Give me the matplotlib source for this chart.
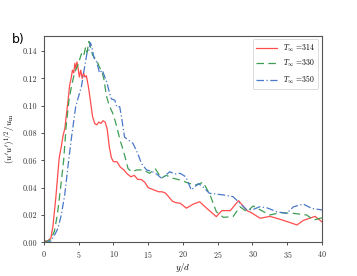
import numpy as np
import matplotlib
matplotlib.use('Agg')
import matplotlib.pyplot as plt
from matplotlib.ticker import FormatStrFormatter, MultipleLocator

plt.rcParams['font.family'] = ['cmr10']
plt.rcParams['mathtext.fontset'] = 'cm'
plt.rcParams['axes.formatter.use_mathtext'] = True

# T = 314 (red, solid)
x_314 = [0, 0.5, 1.0, 1.3, 1.7, 2.0, 2.2, 2.5, 2.75, 3.0, 3.2, 3.5, 3.7, 3.95, 4.1, 4.3, 4.45, 4.6,
         4.75, 4.9, 5.1, 5.3, 5.5, 5.7, 5.9, 6.1, 6.4, 6.7, 7.0, 7.3, 7.6, 7.9, 8.2, 8.5, 8.8,
         9.1, 9.4, 9.7, 10.0, 10.5, 11.0, 11.5, 12.0, 12.5, 13.0, 13.5, 14.0, 14.5, 15.0, 15.5,
         16.0, 16.5, 17.0, 17.5, 18.0, 18.5, 19.0, 19.6, 20.5, 21.5, 22.4, 23.4, 24.8, 25.6,
         26.8, 28.0, 29.2, 29.9, 31.1, 32.5, 34.0, 35.2, 36.4, 37.3, 39.0, 40.0]
u_314 = [0.001, 0.001, 0.003, 0.012, 0.032, 0.05, 0.062, 0.07, 0.078, 0.083, 0.092, 0.105, 0.115,
         0.121, 0.126, 0.124, 0.131, 0.127, 0.132, 0.128, 0.121, 0.126, 0.12, 0.124, 0.121, 0.122,
         0.114, 0.103, 0.092, 0.087, 0.086, 0.088, 0.087, 0.089, 0.088, 0.083, 0.07, 0.062,
         0.059, 0.059, 0.055, 0.053, 0.05, 0.048, 0.049, 0.046, 0.046, 0.044, 0.04, 0.039,
         0.038, 0.037, 0.037, 0.036, 0.033, 0.03, 0.029, 0.0286, 0.025, 0.028, 0.0297, 0.025,
         0.0188, 0.0232, 0.0232, 0.0305, 0.0232, 0.0215, 0.0176, 0.019, 0.0168, 0.0148, 0.0127,
         0.016, 0.019, 0.015]

# T = 330 (green, dashed)
x_330 = [0, 0.5, 1.0, 1.5, 1.93, 2.4, 2.84, 3.2, 3.6, 4.0, 4.4, 4.9, 5.4, 5.7, 6.0, 6.2, 6.48,
         6.7, 7.0, 7.3, 7.6, 8.0, 8.3, 8.6, 9.0, 9.4, 9.9, 10.3, 10.7, 11.0, 11.4, 11.8, 12.1,
         12.6, 13.4, 14.3, 15.2, 16.0, 16.9, 17.6, 18.5, 19.6, 21.0, 22.0, 22.9, 23.9, 24.8,
         25.8, 27.2, 28.2, 29.2, 30.1, 31.6, 32.5, 34.0, 35.9, 37.8, 38.8, 40.0]
u_330 = [0.0, 0.001, 0.002, 0.008, 0.02, 0.04, 0.06, 0.085, 0.104, 0.115, 0.124, 0.13, 0.138,
         0.136, 0.143, 0.139, 0.147, 0.143, 0.137, 0.135, 0.133, 0.128, 0.126, 0.12, 0.107,
         0.1, 0.0945, 0.088, 0.08, 0.074, 0.0676, 0.06, 0.054, 0.0517, 0.053, 0.053, 0.0505,
         0.054, 0.047, 0.049, 0.047, 0.0456, 0.043, 0.042, 0.044, 0.0347, 0.0224, 0.0183,
         0.0188, 0.026, 0.0224, 0.0266, 0.0224, 0.02, 0.0217, 0.0212, 0.02, 0.0163, 0.018]

# T = 350 (blue, dash-dot)
x_350 = [0, 0.5, 1.0, 1.5, 2.0, 2.5, 3.0, 3.56, 4.0, 4.57, 5.0, 5.4, 5.86, 6.2, 6.5, 6.7, 6.9,
         7.2, 7.6, 8.0, 8.4, 8.75, 9.0, 9.3, 9.7, 10.2, 10.5, 10.9, 11.15, 11.6, 12.1, 12.8,
         13.5, 14.0, 14.75, 15.5, 16.2, 16.9, 17.5, 18.1, 18.8, 19.6, 20.4, 21.2, 22.2, 22.8,
         23.8, 25.8, 27.2, 28.2, 29.2, 30.1, 31.0, 32.0, 33.5, 34.9, 35.9, 37.3, 38.5, 40.0]
u_350 = [0.0, 0.0, 0.001, 0.005, 0.01, 0.02, 0.035, 0.06, 0.078, 0.0993, 0.107, 0.114, 0.1286,
         0.1385, 0.141, 0.146, 0.143, 0.135, 0.132, 0.124, 0.126, 0.121, 0.118, 0.112, 0.105,
         0.104, 0.099, 0.0993, 0.092, 0.077, 0.075, 0.0725, 0.065, 0.058, 0.053, 0.052, 0.05,
         0.047, 0.049, 0.0517, 0.05, 0.0505, 0.048, 0.0383, 0.043, 0.041, 0.0359, 0.0347,
         0.0334, 0.0286, 0.0237, 0.024, 0.026, 0.0254, 0.0224, 0.0212, 0.026, 0.028, 0.0249,
         0.0237]

labels = [r'$T_\infty$ =314', r'$T_\infty$ =330', r'$T_\infty$ =350']

fig = plt.figure(figsize=(3.57, 2.76), dpi=100)
ax = fig.add_axes([0.123, 0.122, 0.779, 0.749])

ax.plot(x_314, u_314, color='#ff4d4d', lw=0.9, ls='-', label=labels[0])
ax.plot(x_330, u_330, color='#3f9e55', lw=0.9, ls=(0, (6, 3.5)), label=labels[1])
ax.plot(x_350, u_350, color='#4a78c8', lw=0.9, ls=(0, (6, 2, 1, 2)), label=labels[2])

ax.set_xlim(0, 40)
ax.set_ylim(0, 0.1513)
ax.xaxis.set_major_locator(MultipleLocator(5))
ax.yaxis.set_major_locator(MultipleLocator(0.02))
ax.yaxis.set_major_formatter(FormatStrFormatter('%.2f'))
ax.tick_params(labelsize=5.8, length=2.2, width=0.6, pad=2.5, colors='#333333')
for s in ax.spines.values():
    s.set_color('#555555')
    s.set_linewidth(0.8)

ax.set_xlabel(r'$y/d$', fontsize=6.5, labelpad=1)
ax.set_ylabel(r"$(u'u')^{1/2}/u_{\rm m}$", fontsize=6.5, labelpad=4)

leg = ax.legend(loc='upper right', fontsize=5.5, handlelength=2.8, borderaxespad=0.5,
                labelspacing=0.55)
leg.get_frame().set_linewidth(0.6)

fig.text(0.033, 0.843, 'b)', fontsize=9, family='DejaVu Sans')

fig.savefig('out.png', dpi=100)
